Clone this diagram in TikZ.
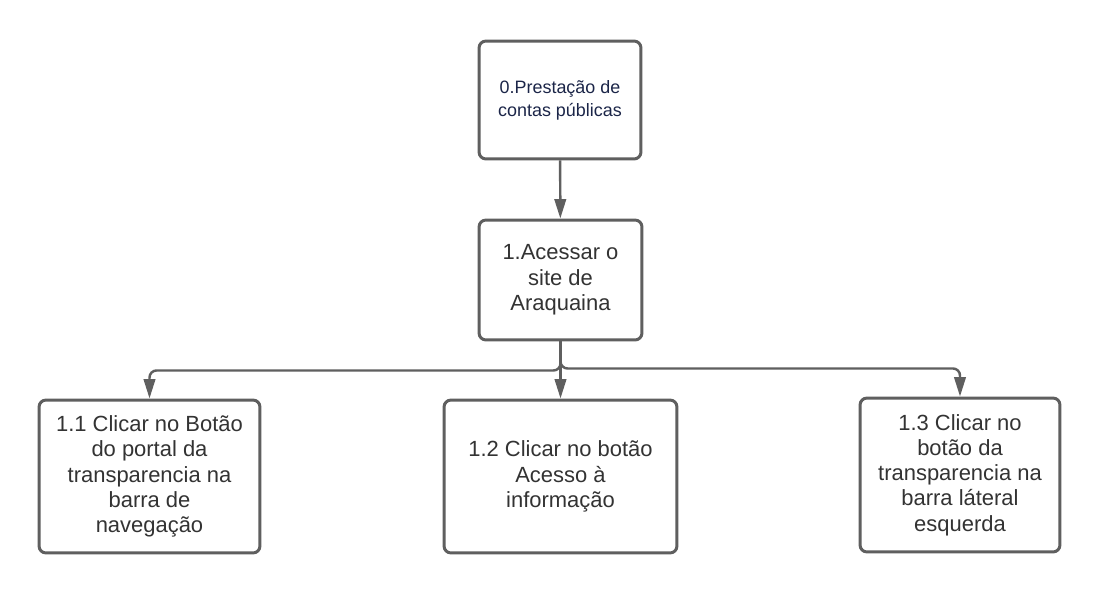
\documentclass[tikz,border=0pt]{standalone}
\usepackage{fontspec}
\setmainfont{Liberation Sans}
\usetikzlibrary{arrows.meta}
\definecolor{linha}{HTML}{5F5F5F}
\definecolor{texto}{HTML}{333333}
\definecolor{azul}{HTML}{1B2548}
\begin{document}
\begin{tikzpicture}[x=0.02cm,y=-0.02cm,
	caixa/.style={draw=linha,line width=1.7pt,rounded corners=4pt,align=center,
		text=texto,inner sep=0pt,font=\fontsize{12.5}{14.4}\selectfont},
	seta/.style={draw=linha,line width=1.4pt,rounded corners=4pt,
		-{Triangle[length=11pt,width=6.5pt]}}]
	\fill[white] (0,0) rectangle (1100,595);
	\useasboundingbox (0,0) rectangle (1100,595);
	% nivel 0
	\node[caixa,text=azul,minimum width=3.24cm,minimum height=2.36cm,
		font=\fontsize{10.2}{13}\selectfont] (p0) at (560,100)
		{0.Presta\c{c}\~ao de\\contas p\'ublicas};
	% nivel 1
	\node[caixa,minimum width=3.26cm,minimum height=2.4cm] (p1) at (560.5,280)
		{1.Acessar o\\site de\\Araquaina};
	% nivel 1.x
	\node[caixa,minimum width=4.42cm,minimum height=3.06cm] (p11) at (149.5,476.5)
		{1.1 Clicar no Bot\~ao\\do portal da\\transparencia na\\barra de\\navega\c{c}\~ao};
	\node[caixa,minimum width=4.66cm,minimum height=3.06cm] (p12) at (560.5,476.5)
		{1.2 Clicar no bot\~ao\\Acesso \`a\\informa\c{c}\~ao};
	\node[caixa,minimum width=4.0cm,minimum height=3.08cm] (p13) at (960,475)
		{1.3 Clicar no\\bot\~ao da\\transparencia na\\barra l\'ateral\\esquerda};
	% setas
	\draw[seta] (p0) -- (p1);
	\draw[seta] (p1.south) -- ++(0,29) -| (p11.north);
	\draw[seta] (p1.south) -- ++(0,27) -| (p13.north);
	\draw[seta] (p1) -- (p12);
\end{tikzpicture}
\end{document}
